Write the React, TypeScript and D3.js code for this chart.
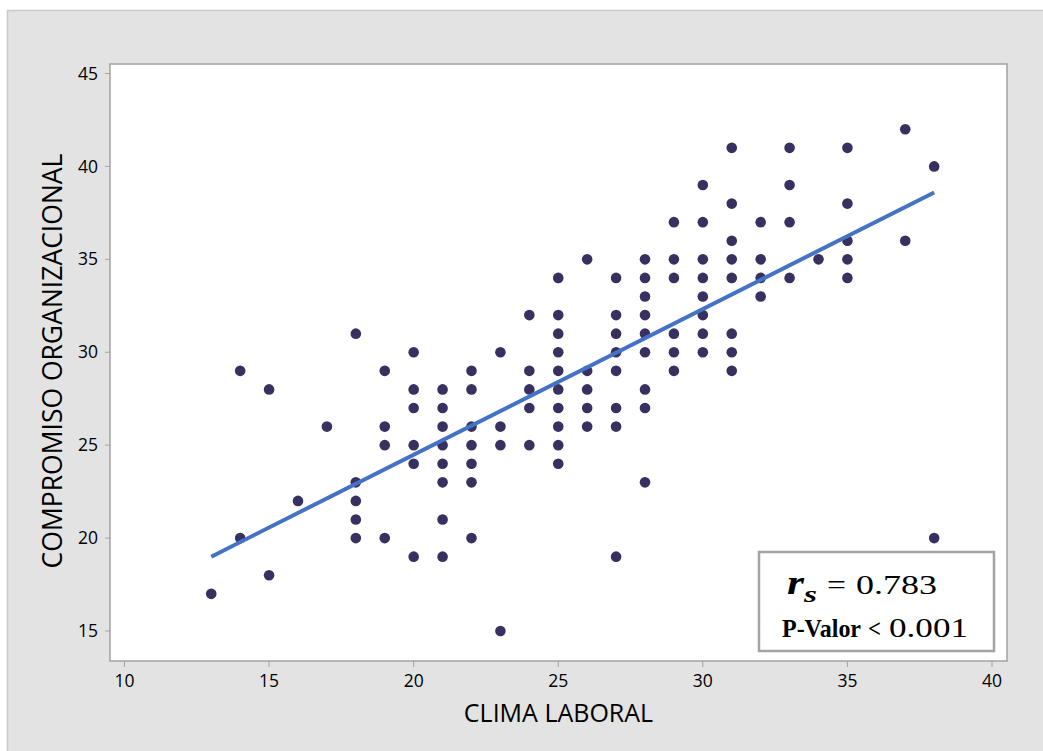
import * as d3 from "d3";

// CLIMA LABORAL values (x) and the COMPROMISO ORGANIZACIONAL values seen at each
const climaLevels = [13, 14, 15, 16, 17, 18, 19, 20, 21, 22, 23, 24, 25, 26, 27, 28, 29, 30, 31, 32, 33, 34, 35, 37, 38];
const compromisoByClima = [
  [17],
  [29, 20],
  [28, 18],
  [22],
  [26],
  [31, 23, 22, 21, 20],
  [29, 26, 25, 20],
  [30, 28, 27, 25, 24, 19],
  [28, 27, 26, 25, 24, 23, 21, 19],
  [29, 28, 26, 25, 24, 23, 20],
  [30, 26, 25, 15],
  [32, 29, 28, 27, 25],
  [34, 32, 31, 30, 29, 28, 27, 26, 25, 24],
  [35, 29, 28, 27, 26],
  [34, 32, 31, 30, 29, 27, 26, 19],
  [35, 34, 33, 32, 31, 30, 28, 27, 23],
  [37, 35, 34, 31, 30, 29],
  [39, 37, 35, 34, 33, 32, 31, 30],
  [41, 38, 36, 35, 34, 31, 30, 29],
  [37, 35, 34, 33],
  [41, 39, 37, 34],
  [35],
  [41, 38, 36, 35, 34],
  [42, 36],
  [40, 20],
];

const xTicks = [10, 15, 20, 25, 30, 35, 40];
const yTicks = [15, 20, 25, 30, 35, 40, 45];

// fitted line ends
const fitLine = [
  [13, 19.0],
  [38, 38.6],
];

const rsText = "0.783";
const pText = "0.001";

const W = 1043;
const H = 751;
const frame = { left: 110, top: 64, right: 1007, bottom: 661 };
const sans = "'Open Sans', 'Noto Sans', sans-serif";
const serif = "'Liberation Serif', 'Times New Roman', serif";

export default function App() {
  const x = d3.scaleLinear().domain([10, 40]).range([124.5, 992]);
  const y = d3.scaleLinear().domain([15, 45]).range([631, 73.5]);

  const points = climaLevels.flatMap((c, i) =>
    compromisoByClima[i].map((v) => ({ c, v }))
  );
  const line = d3
    .line<number[]>()
    .x((d) => x(d[0]))
    .y((d) => y(d[1]));

  const box = { x: 759, y: 552, w: 235, h: 99 };
  const fit = "spacingAndGlyphs";

  return (
    <svg
      width={W}
      height={H}
      style={{ position: "absolute", left: 0, top: 0, display: "block" }}
    >
      <rect x={0} y={0} width={W} height={H} fill="#ffffff" />
      {/* outer panel */}
      <rect x={7.5} y={10.5} width={W} height={H} fill="#e3e3e3" stroke="#cacaca" strokeWidth={1.5} />

      {/* plot area */}
      <rect
        x={frame.left}
        y={frame.top}
        width={frame.right - frame.left}
        height={frame.bottom - frame.top}
        fill="#ffffff"
        stroke="#a3a3a3"
        strokeWidth={1.5}
      />

      {/* y axis */}
      {yTicks.map((t) => (
        <g key={"y" + t}>
          <line x1={frame.left - 5} x2={frame.left} y1={y(t)} y2={y(t)} stroke="#a3a3a3" strokeWidth={1} />
          <text
            x={frame.left - 12}
            y={y(t)}
            dy="0.35em"
            textAnchor="end"
            fontFamily={sans}
            fontSize={17.5}
            fill="#000"
          >
            {t}
          </text>
        </g>
      ))}

      {/* x axis */}
      {xTicks.map((t) => (
        <g key={"x" + t}>
          <line x1={x(t)} x2={x(t)} y1={frame.bottom} y2={frame.bottom + 6} stroke="#a3a3a3" strokeWidth={1} />
          <text
            x={x(t)}
            y={frame.bottom + 26}
            textAnchor="middle"
            fontFamily={sans}
            fontSize={17.5}
            fill="#000"
          >
            {t}
          </text>
        </g>
      ))}

      <text x={558.5} y={722} textAnchor="middle" fontFamily={sans} fontSize={25} fill="#000">
        CLIMA LABORAL
      </text>
      <text
        transform={`translate(62, 361) rotate(-90)`}
        textAnchor="middle"
        fontFamily={sans}
        fontSize={26.5}
        fill="#000"
      >
        COMPROMISO ORGANIZACIONAL
      </text>

      {/* points */}
      {points.map((p, i) => (
        <circle key={i} cx={x(p.c)} cy={y(p.v)} r={5.3} fill="#36315f" />
      ))}

      {/* fitted line */}
      <path d={line(fitLine) ?? ""} fill="none" stroke="#4472c4" strokeWidth={4} />

      {/* annotation */}
      <rect x={box.x} y={box.y} width={box.w} height={box.h} fill="#ffffff" stroke="#a3a3a3" strokeWidth={2.5} />
      <g fontFamily={serif} fill="#000">
        <text x={787} y={594} fontSize={34} fontWeight="bold" fontStyle="italic" textLength={17} lengthAdjust={fit}>
          r
        </text>
        <text x={804} y={602} fontSize={24} fontWeight="bold" fontStyle="italic" textLength={13} lengthAdjust={fit}>
          s
        </text>
        <text x={827} y={594} fontSize={27} textLength={19} lengthAdjust={fit}>
          =
        </text>
        <text x={856} y={594} fontSize={27} textLength={81} lengthAdjust={fit}>
          {rsText}
        </text>
        <text x={782} y={637} fontSize={24.5} fontWeight="bold" textLength={79} lengthAdjust={fit}>
          P-Valor
        </text>
        <text x={868} y={637} fontSize={26} fontWeight="bold" textLength={13} lengthAdjust={fit}>
          {"<"}
        </text>
        <text x={889} y={637} fontSize={27} textLength={79} lengthAdjust={fit}>
          {pText}
        </text>
      </g>
    </svg>
  );
}
